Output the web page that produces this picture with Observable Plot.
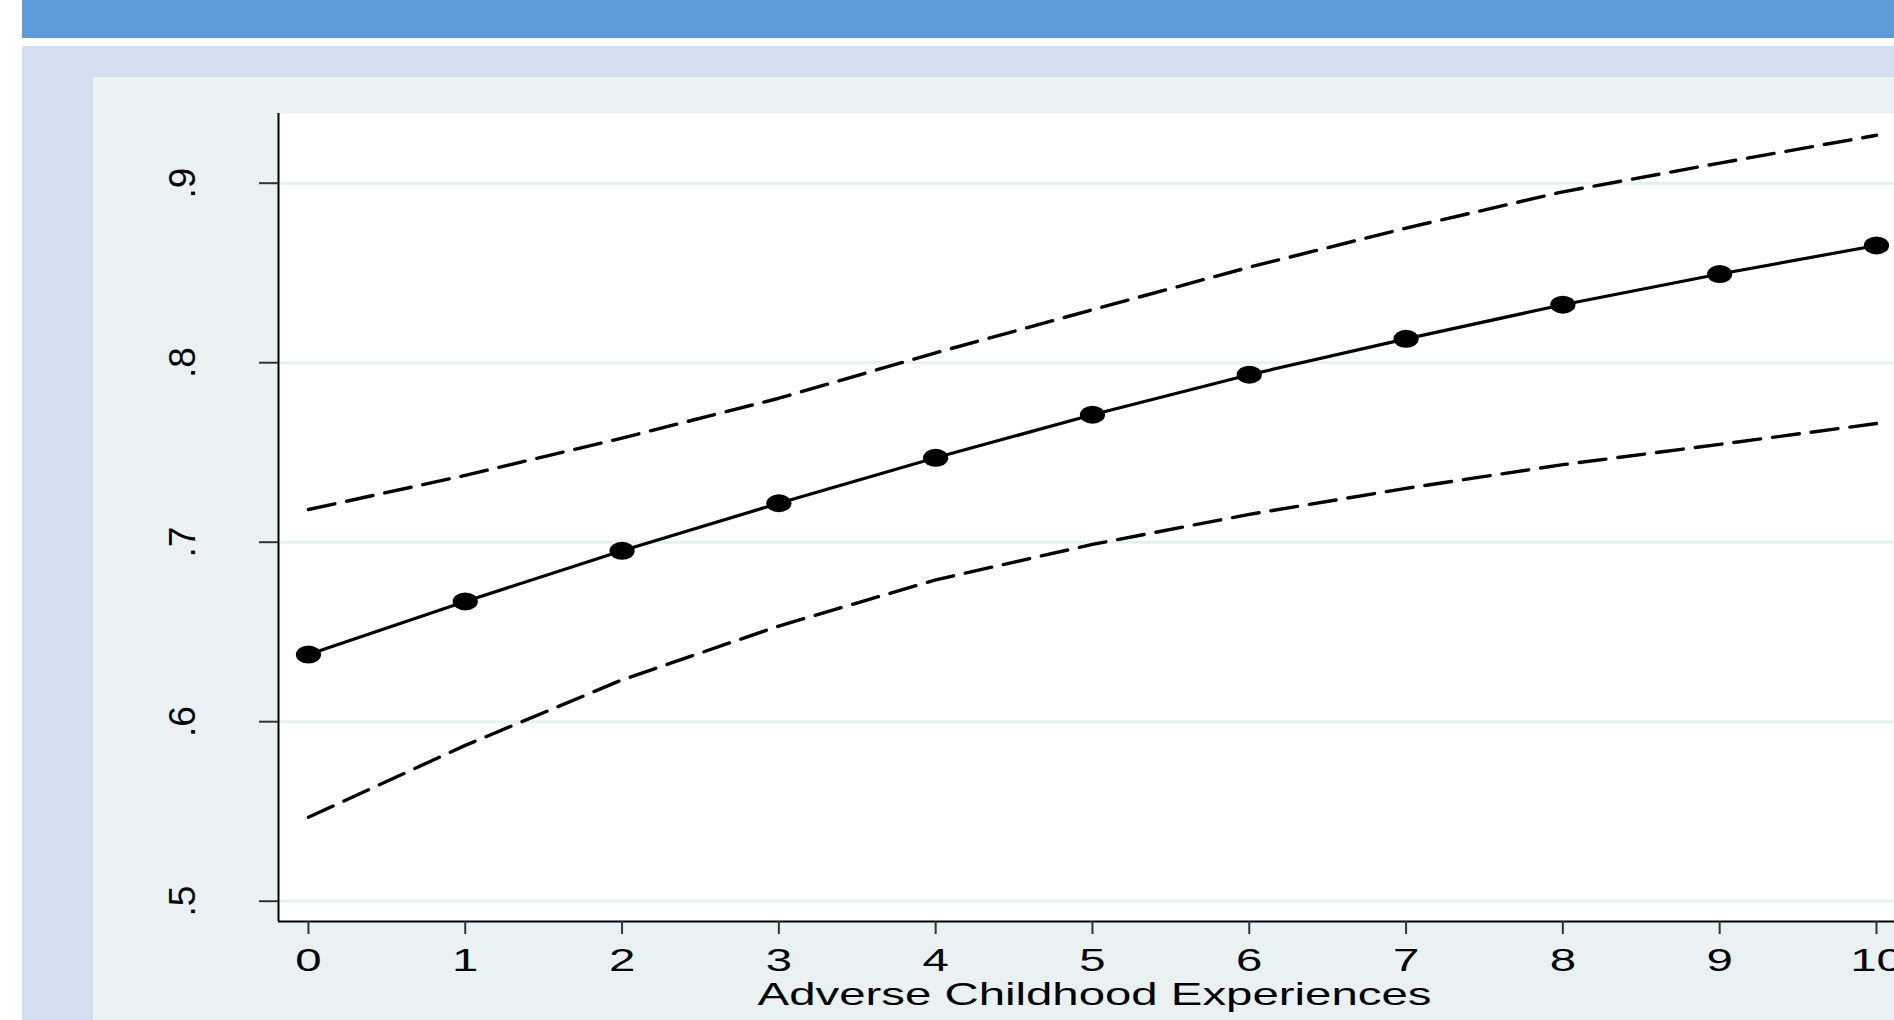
<!DOCTYPE html>
<html>
<head>
<meta charset="utf-8">
<script src="https://cdn.jsdelivr.net/npm/d3@7"></script>
<script src="https://cdn.jsdelivr.net/npm/@observablehq/plot@0.6"></script>
<style>
  html, body { margin: 0; padding: 0; background: #ffffff; width: 1894px; height: 1020px; overflow: hidden; }
  .band { position: absolute; }
  #header { left: 22px; top: 0; right: 0; height: 38px; background: #5b9bd6; }
  #outer { left: 22px; top: 46px; right: 0; bottom: 0; background: #d3deef; }
  #panel { left: 93px; top: 77px; right: 0; bottom: 0; background: #e9f1f3; }
  #chart { position: absolute; left: 93px; top: 77px; width: 1817px; height: 943px; }
  #chart svg { max-width: none !important; display: block; }
</style>
</head>
<body>
<div class="band" id="header"></div>
<div class="band" id="outer"></div>
<div class="band" id="panel"></div>
<div id="chart"></div>
<script>
// Predicted probability by number of adverse childhood experiences, with 95% CI
const aces     = [0, 1, 2, 3, 4, 5, 6, 7, 8, 9, 10];
const fitted   = [0.6374, 0.6670, 0.6952, 0.7217, 0.7470, 0.7710, 0.7933, 0.8133, 0.8323, 0.8494, 0.8653];
const upperCI  = [0.7182, 0.7372, 0.7580, 0.7802, 0.8055, 0.8295, 0.8532, 0.8750, 0.8952, 0.9112, 0.9267];
const lowerCI  = [0.5468, 0.5868, 0.6233, 0.6533, 0.6790, 0.6988, 0.7155, 0.7300, 0.7432, 0.7545, 0.7661];
const xTicks   = [0, 1, 2, 3, 4, 5, 6, 7, 8, 9, 10];
const yTicks   = [0.5, 0.6, 0.7, 0.8, 0.9];
const xTitle   = "Adverse Childhood Experiences";

const rows = aces.map((a, i) => ({a, fit: fitted[i], hi: upperCI[i], lo: lowerCI[i]}));
const fmtY = d => d3.format(".1f")(d).replace(/^0/, "");
const fmtX = d3.format("d");

const xDomain = [-0.191, 10.217];
const yDomain = [0.48869, 0.93883];
const gridColor = "#e8eff2";

const chart = Plot.plot({
  width: 1817,
  height: 943,
  marginLeft: 185,
  marginRight: 0,
  marginTop: 36,
  marginBottom: 99,
  x: {domain: xDomain, axis: null},
  y: {domain: yDomain, axis: null},
  style: {
    background: "transparent",
    overflow: "visible",
    maxWidth: "none",
    fontFamily: "'Liberation Sans', Arial, Helvetica, sans-serif",
    fontSize: "32px",
    color: "#000000"
  },
  marks: [
    Plot.frame({fill: "#ffffff", stroke: "none"}),
    Plot.gridY(yTicks, {stroke: gridColor, strokeWidth: 3, strokeOpacity: 1}),
    Plot.line(rows, {x: "a", y: "hi", stroke: "#000", strokeWidth: 3.4, strokeDasharray: "27,12"}),
    Plot.line(rows, {x: "a", y: "lo", stroke: "#000", strokeWidth: 3.4, strokeDasharray: "27,12"}),
    Plot.line(rows, {x: "a", y: "fit", stroke: "#000", strokeWidth: 3.2}),
    Plot.dot(rows, {x: "a", y: "fit", r: 9, fill: "#000"}),
    Plot.ruleX([xDomain[0]], {stroke: "#000", strokeWidth: 2}),
    Plot.ruleY([yDomain[0]], {stroke: "#000", strokeWidth: 2}),
    Plot.axisY(yTicks, {anchor: "left", tickSize: 19, stroke: "#333", strokeWidth: 2, fill: "none"}),
    Plot.text(yTicks, {y: d => d, frameAnchor: "left", dx: -95, rotate: -90, textAnchor: "middle", lineAnchor: "middle", text: fmtY, fontSize: 37, fill: "#000"}),
    Plot.axisX(xTicks, {anchor: "bottom", tickSize: 13, tickPadding: 14, tickFormat: fmtX, fontSize: 32, stroke: "#333", strokeWidth: 2, fill: "#000", label: null}),
    Plot.text([xTitle], {frameAnchor: "bottom", dy: 61, textAnchor: "middle", lineAnchor: "top", fontSize: 32, fill: "#000"})
  ]
});

document.getElementById("chart").appendChild(chart);

// Widen horizontal glyphs and markers about their own centres (wide-aspect export look)
function widen(el, s) {
  const b = el.getBBox();
  const cx = b.x + b.width / 2;
  const t = el.getAttribute("transform") || "";
  el.setAttribute("transform", `${t} translate(${cx},0) scale(${s},1) translate(${-cx},0)`.trim());
}
chart.querySelectorAll('g[aria-label="x-axis tick label"] text').forEach(el => widen(el, 1.48));
chart.querySelectorAll('text').forEach(el => { if (el.textContent === xTitle) widen(el, 1.48); });
chart.querySelectorAll('g[aria-label="dot"] circle').forEach(el => widen(el, 1.4));
</script>
</body>
</html>
